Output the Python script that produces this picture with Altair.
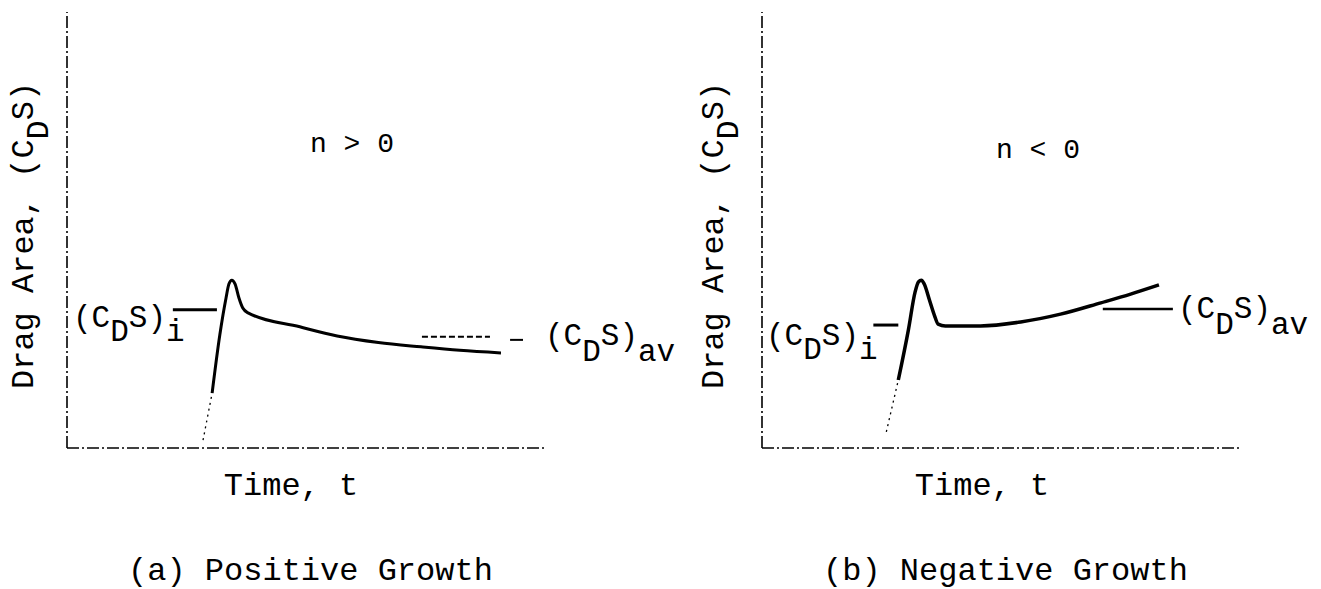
import altair as alt
import pandas as pd

FONT = "Liberation Mono"
NB = "\u00a0"
ADV = 0.6  # advance width of the monospace font, in em

# ---------------- data (panel units: time 0..10, drag area 0..10) ----------------
# Panel (a): positive growth
a_rise_t = [2.84, 3.03]
a_rise_v = [0.18, 1.26]
a_curve_t = [3.03, 3.19, 3.32, 3.38, 3.44, 3.51, 3.59, 3.67, 3.78, 4.86, 5.64, 6.50, 7.39, 8.20, 9.06]
a_curve_v = [1.26, 2.59, 3.44, 3.76, 3.85, 3.76, 3.44, 3.21, 3.10, 2.78, 2.57, 2.42, 2.32, 2.24, 2.18]
a_init_t = [2.21, 3.13]
a_init_v = 3.17
a_avg_t = [7.41, 8.83]
a_avg_v = 2.55
a_avg2_t = [9.25, 9.52]
a_avg2_v = 2.48

# Panel (b): negative growth
b_rise_t = [2.59, 2.84]
b_rise_v = [0.37, 1.56]
b_curve_t = [2.84, 3.05, 3.19, 3.26, 3.32, 3.38, 3.49, 3.59, 3.67, 3.82, 4.55, 5.39, 6.22, 7.06, 7.68, 8.27]
b_curve_v = [1.56, 2.71, 3.58, 3.81, 3.85, 3.76, 3.39, 3.05, 2.84, 2.80, 2.80, 2.89, 3.07, 3.33, 3.53, 3.74]
b_init_t = [2.32, 2.84]
b_init_v = 2.82
b_avg_t = [7.10, 8.56]
b_avg_v = 3.19

# axes extents (panel units)
axis_t = [0, 10]
axis_v = [0, 10]

# texts (typewriter style: subscripts typed on a lowered line)
y_title_main = "Drag Area, (C" + NB + "S)"
y_title_sub = "D"
x_title = "Time, t"
cds_main = "(C" + NB + "S)"
cds_i_sub = "D" + NB * 2 + "i"
cds_av_sub = "D" + NB * 2 + "av"
a_note = "n > 0"
b_note = "n < 0"
a_caption = "(a) Positive Growth"
b_caption = "(b) Negative Growth"


def panel(xrange, rise_t, rise_v, curve_t, curve_v, init_t, init_v, avg_segments, curve_w):
    xs = alt.Scale(domain=[0, 10], range=xrange)
    ys = alt.Scale(domain=[0, 10], range=[448, 12])
    X = lambda: alt.X("t:Q", scale=xs, axis=None)
    Y = lambda: alt.Y("v:Q", scale=ys, axis=None)

    axes_df = pd.DataFrame({
        "t": [axis_t[0], axis_t[0]], "t2": [axis_t[1], axis_t[0]],
        "v": [axis_v[0], axis_v[0]], "v2": [axis_v[0], axis_v[1]],
    })
    axes = alt.Chart(axes_df).mark_rule(
        color="black", strokeWidth=1.6, strokeDash=[12, 3, 2, 3]
    ).encode(x=X(), x2="t2", y=Y(), y2="v2")

    rise = alt.Chart(pd.DataFrame({"t": rise_t, "v": rise_v})).mark_line(
        color="black", strokeWidth=1.3, strokeDash=[2, 4]
    ).encode(x=X(), y=Y())

    curve = alt.Chart(pd.DataFrame({"t": curve_t, "v": curve_v})).mark_line(
        color="black", strokeWidth=curve_w, interpolate="monotone"
    ).encode(x=X(), y=Y())

    init = alt.Chart(pd.DataFrame({"t": [init_t[0]], "t2": [init_t[1]], "v": [init_v]})).mark_rule(
        color="black", strokeWidth=3
    ).encode(x=X(), x2="t2", y=Y())

    layers = [axes, rise, curve, init]
    for seg_t, seg_v, dash, w in avg_segments:
        mark_kw = dict(color="black", strokeWidth=w)
        if dash:
            mark_kw["strokeDash"] = dash
        layers.append(
            alt.Chart(pd.DataFrame({"t": [seg_t[0]], "t2": [seg_t[1]], "v": [seg_v]}))
            .mark_rule(**mark_kw).encode(x=X(), x2="t2", y=Y())
        )
    return alt.layer(*layers)


def label(text, x, y, size=32, align="left", angle=0, dx=0, dy=0):
    kw = dict(font=FONT, fontSize=size, align=align, baseline="alphabetic", color="black")
    if angle:
        kw["angle"] = angle
    if dx:
        kw["dx"] = dx
    if dy:
        kw["dy"] = dy
    return alt.Chart(pd.DataFrame({"s": [text]})).mark_text(**kw).encode(
        x=alt.value(x), y=alt.value(y), text="s:N"
    )


def cds(sub, x, y, size=31, drop=14):
    """(C_D S)_sub written as a main line plus a lowered subscript line."""
    return [
        label(cds_main, x, y, size=size),
        label(sub, x, y, size=size, dx=2 * ADV * size, dy=drop),
    ]


def y_title(x, y, size=32):
    return [
        label(y_title_main, x, y, size=size, angle=270),
        label(y_title_sub, x, y, size=size, angle=270, dx=13 * ADV * size, dy=15),
    ]


panel_a = panel([67, 546], a_rise_t, a_rise_v, a_curve_t, a_curve_v, a_init_t, a_init_v,
                [(a_avg_t, a_avg_v, [6, 3], 2), (a_avg2_t, a_avg2_v, None, 2)], 3)
panel_b = panel([762, 1242], b_rise_t, b_rise_v, b_curve_t, b_curve_v, b_init_t, b_init_v,
                [(b_avg_t, b_avg_v, None, 2.5)], 3.5)

texts = alt.layer(
    # panel (a)
    *y_title(33, 389),
    label(a_note, 352, 152, size=28, align="center"),
    *cds(cds_i_sub, 73, 327),
    *cds(cds_av_sub, 545, 345, drop=16),
    label(x_title, 291, 495, align="center"),
    label(a_caption, 128, 580),
    # panel (b)
    *y_title(723, 389),
    label(b_note, 1038, 158, size=28, align="center"),
    *cds(cds_i_sub, 766, 345),
    *cds(cds_av_sub, 1178, 318, drop=16),
    label(x_title, 982, 495, align="center"),
    label(b_caption, 823, 580),
)

chart = alt.layer(panel_a, panel_b, texts).resolve_scale(
    x="independent", y="independent"
).properties(
    width=1321, height=589, padding=0,
    autosize=alt.AutoSizeParams(type="none"),
    background="white",
).configure_view(stroke=None)

chart.save("out.html", embed_options={"renderer": "svg", "actions": False})
